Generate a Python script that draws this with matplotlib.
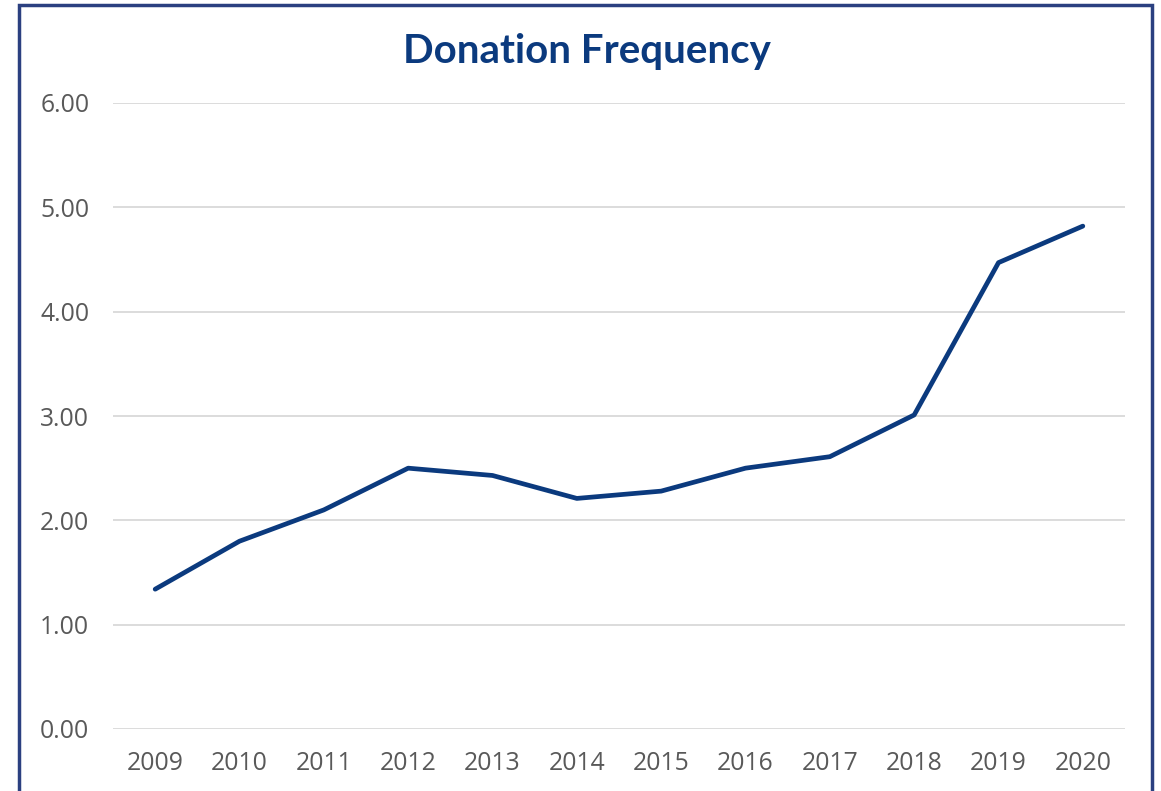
import matplotlib.pyplot as plt
from matplotlib.patches import Rectangle

years = ['2009', '2010', '2011', '2012', '2013', '2014',
         '2015', '2016', '2017', '2018', '2019', '2020']
frequency = [1.34, 1.80, 2.10, 2.50, 2.43, 2.21, 2.28, 2.50, 2.61, 3.01, 4.47, 4.82]
y_ticks = [0, 1, 2, 3, 4, 5, 6]

W, H = 1161, 791
fig = plt.figure(figsize=(W / 100, H / 100), dpi=100)
ax = fig.add_axes([113 / W, 1 - 729 / H, (1125 - 113) / W, (729 - 103) / H])

x = list(range(len(years)))
ax.plot(x, frequency, color='#0B3A7E', linewidth=3.4, solid_capstyle='round')

ax.set_xlim(-0.5, len(years) - 0.5)
ax.set_ylim(0, 6)
ax.set_yticks(y_ticks)
ax.set_yticklabels([f'{v:.2f}' for v in y_ticks])
ax.set_xticks(x)
ax.set_xticklabels(years)
ax.grid(axis='y', color='#D9D9D9', linewidth=1.3)
ax.set_axisbelow(True)
for s in ax.spines.values():
    s.set_visible(False)
ax.tick_params(length=0, labelsize=17.8, labelcolor='#595959')
ax.tick_params(axis='y', pad=17)
ax.tick_params(axis='x', pad=16)
for lbl in ax.get_xticklabels() + ax.get_yticklabels():
    lbl.set_fontfamily('Open Sans')

fig.text(587 / W, 1 - 51 / H, 'Donation Frequency', ha='center', va='center',
         fontsize=29, fontweight='bold', color='#0B3A7E', family='Lato')

# outer frame, bottom edge runs off the picture
fig.patches.append(Rectangle((19 / W, -0.05), (1152 - 19) / W, 1.05 - 5 / H,
                             transform=fig.transFigure, fill=False,
                             edgecolor='#2B4080', linewidth=2.5))

fig.savefig('out.png', dpi=100)
